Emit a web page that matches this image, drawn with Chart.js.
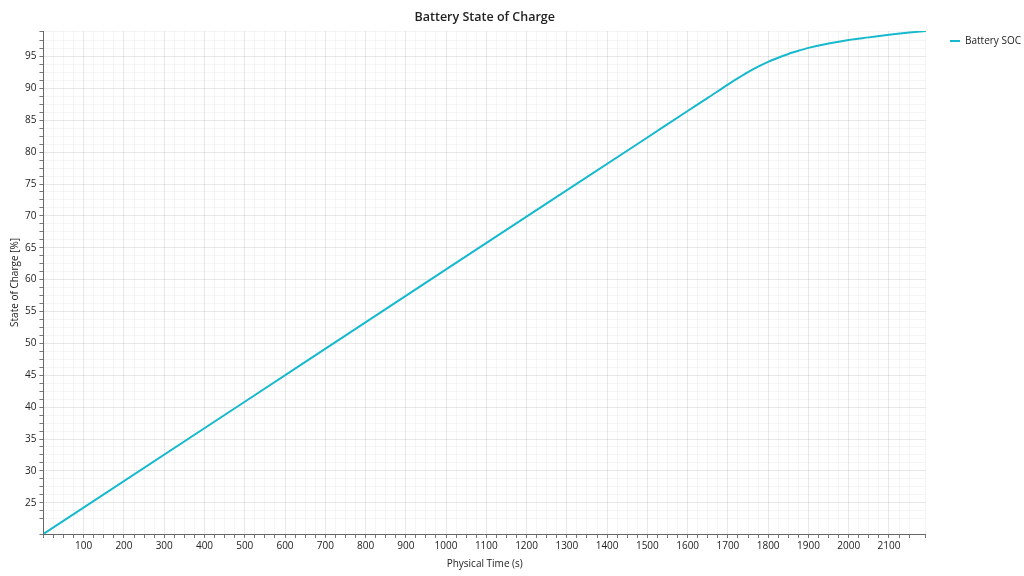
<!DOCTYPE html>
<html>
<head>
<meta charset="utf-8">
<script src="https://cdn.jsdelivr.net/npm/chart.js@4"></script>
<style>
  body { margin: 0; background: #fff; }
  #wrap { width: 1024px; height: 576px; }
</style>
</head>
<body>
<div id="wrap"><canvas id="SocChart"></canvas></div>
<script>
// physical time (s) and state of charge (%)
const timeValues = [0, 500, 1000, 1500, 1600, 1650, 1700, 1725, 1750, 1775, 1800, 1825, 1850, 1875, 1900, 1950, 2000, 2050, 2100, 2150, 2192];
const socValues = [20.1, 40.85, 61.6, 82.3, 86.45, 88.5, 90.6, 91.6, 92.55, 93.4, 94.15, 94.8, 95.4, 95.9, 96.35, 97.05, 97.6, 98.0, 98.4, 98.75, 99.0];
const seriesName = 'Battery SOC';

const lineColor = 'rgb(23, 185, 206)';
const fontFamily = '"Open Sans", "Noto Sans", sans-serif';

const points = timeValues.map(function (t, i) { return { x: t, y: socValues[i] }; });

const SocChart = document.getElementById('SocChart').getContext('2d');

new Chart(SocChart, {
    type: 'line',
    data: {
        datasets: [{
            label: seriesName,
            data: points,
            borderColor: lineColor,
            backgroundColor: lineColor,
            borderWidth: 2,
            pointRadius: 0,
            fill: false,
            cubicInterpolationMode: 'monotone'
        }]
    },
    options: {
        responsive: true,
        maintainAspectRatio: false,
        animation: false,
        layout: { padding: { left: 9, right: -7, bottom: 6 } },
        plugins: {
            title: {
                display: true,
                text: 'Battery State of Charge',
                fullSize: false,
                color: '#222',
                font: { family: fontFamily, size: 12.5, weight: '600' },
                padding: { top: 10, bottom: 6 }
            },
            legend: {
                position: 'right',
                align: 'start',
                title: { display: true, text: '', font: { size: 10 }, padding: 0 },
                labels: {
                    usePointStyle: true,
                    pointStyle: 'line',
                    pointStyleWidth: 10,
                    boxWidth: 10,
                    color: '#222',
                    font: { family: fontFamily, size: 10 },
                    padding: 24
                }
            },
            tooltip: { enabled: false }
        },
        scales: {
            x: {
                type: 'linear',
                min: 0,
                max: 2192,
                title: {
                    display: true,
                    text: 'Physical Time (s)',
                    color: '#222',
                    font: { family: fontFamily, size: 10 },
                    padding: { top: 4, bottom: 0 }
                },
                border: { color: '#666', width: 1 },
                grid: {
                    color: function (ctx) {
                        return ctx.tick && ctx.tick.value % 100 === 0 ? 'rgba(0,0,0,0.09)' : 'rgba(0,0,0,0.04)';
                    },
                    tickColor: '#777',
                    tickLength: 4
                },
                ticks: {
                    stepSize: 25,
                    autoSkip: false,
                    maxRotation: 0,
                    color: '#222',
                    font: { family: fontFamily, size: 10 },
                    padding: 2,
                    callback: function (v) { return v % 100 === 0 && v > 0 ? String(v) : ''; }
                }
            },
            y: {
                type: 'linear',
                min: 20.1,
                max: 99.0,
                title: {
                    display: true,
                    text: 'State of Charge [%]',
                    color: '#222',
                    font: { family: fontFamily, size: 10 },
                    padding: { top: 0, bottom: 1 }
                },
                border: { color: '#666', width: 1 },
                grid: {
                    color: function (ctx) {
                        return ctx.tick && Math.abs(ctx.tick.value % 5) < 1e-6 ? 'rgba(0,0,0,0.09)' : 'rgba(0,0,0,0.04)';
                    },
                    tickColor: '#777',
                    tickLength: 4
                },
                ticks: {
                    stepSize: 1.25,
                    autoSkip: false,
                    color: '#222',
                    font: { family: fontFamily, size: 10 },
                    padding: 3,
                    callback: function (v) { return Math.abs(v % 5) < 1e-6 ? String(v) : ''; }
                }
            }
        }
    }
});
</script>
</body>
</html>
